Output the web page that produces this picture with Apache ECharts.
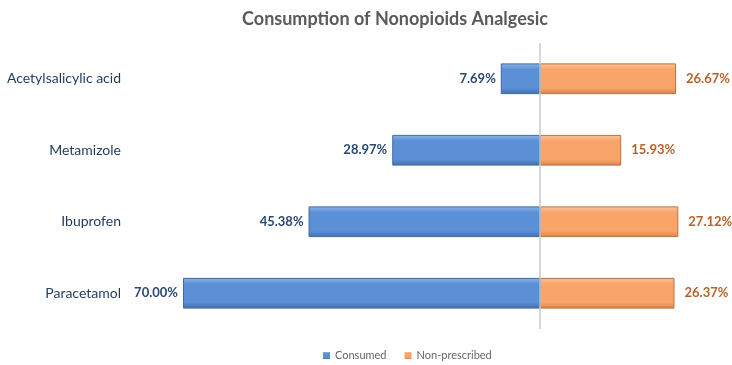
<!DOCTYPE html>
<html>
<head>
<meta charset="utf-8">
<script src="https://cdn.jsdelivr.net/npm/echarts@6/dist/echarts.min.js"></script>
<style>html,body{margin:0;padding:0;background:#fff}#c{width:732px;height:365px}</style>
</head>
<body>
<div id="c"></div>
<script>
var categories = ['Acetylsalicylic acid', 'Metamizole', 'Ibuprofen', 'Paracetamol'];
var consumed = [7.69, 28.97, 45.38, 70.00];
var nonPrescribed = [26.67, 15.93, 27.12, 26.37];
var seriesNames = ['Consumed', 'Non-prescribed'];

var chart = echarts.init(document.getElementById('c'));
var FONT = 'Lato, "Open Sans", sans-serif';
function grad(top, mid, bot) {
  return new echarts.graphic.LinearGradient(0, 0, 0, 1, [
    {offset: 0, color: top}, {offset: 0.2, color: mid}, {offset: 0.8, color: mid}, {offset: 1, color: bot}
  ]);
}
chart.setOption({
  animation: false,
  title: {
    text: 'Consumption of Nonopioids Analgesic',
    left: 390, textAlign: 'center', top: 5,
    textStyle: {fontFamily: FONT, fontSize: 18, fontWeight: 'bold', color: '#5a5a5a'}
  },
  legend: {
    top: 345, left: 318,
    itemWidth: 7, itemHeight: 7, itemGap: 18,
    icon: 'rect',
    itemStyle: {borderWidth: 0},
    textStyle: {fontFamily: FONT, fontSize: 11, color: '#666'},
    data: seriesNames
  },
  grid: {left: 183, right: 39, top: 43, bottom: 36},
  xAxis: {
    type: 'value', min: -70, max: 30, show: false
  },
  yAxis: {
    type: 'category', inverse: true, data: categories,
    axisLine: {show: false}, axisTick: {show: false},
    axisLabel: {margin: 62, fontFamily: FONT, fontSize: 14, color: '#1f3a5f'}
  },
  series: [
    {
      name: seriesNames[0], type: 'bar', stack: 's', barWidth: '43%',
      data: consumed.map(function (v) { return -v; }),
      itemStyle: {color: grad('#8db4e8', '#5b8fd6', '#3f6fb0'), borderColor: '#41699e', borderWidth: 1},
      label: {show: true, position: 'left', distance: 5, fontFamily: FONT, fontSize: 13, fontWeight: 'bold', color: '#2b4a73',
        formatter: function (p) { return Math.abs(p.value).toFixed(2) + '%'; }},
      markLine: {silent: true, symbol: 'none', label: {show: false},
        lineStyle: {color: '#c8c8c8', type: 'solid', width: 1.5},
        data: [{xAxis: 0}]}
    },
    {
      name: seriesNames[1], type: 'bar', stack: 's', barWidth: '43%',
      data: nonPrescribed,
      itemStyle: {color: grad('#fcc49c', '#f9a468', '#d9834a'), borderColor: '#b8723f', borderWidth: 1},
      label: {show: true, position: 'right', distance: 10, fontFamily: FONT, fontSize: 13, fontWeight: 'bold', color: '#b5632a',
        formatter: function (p) { return p.value.toFixed(2) + '%'; }}
    }
  ]
});
</script>
</body>
</html>
